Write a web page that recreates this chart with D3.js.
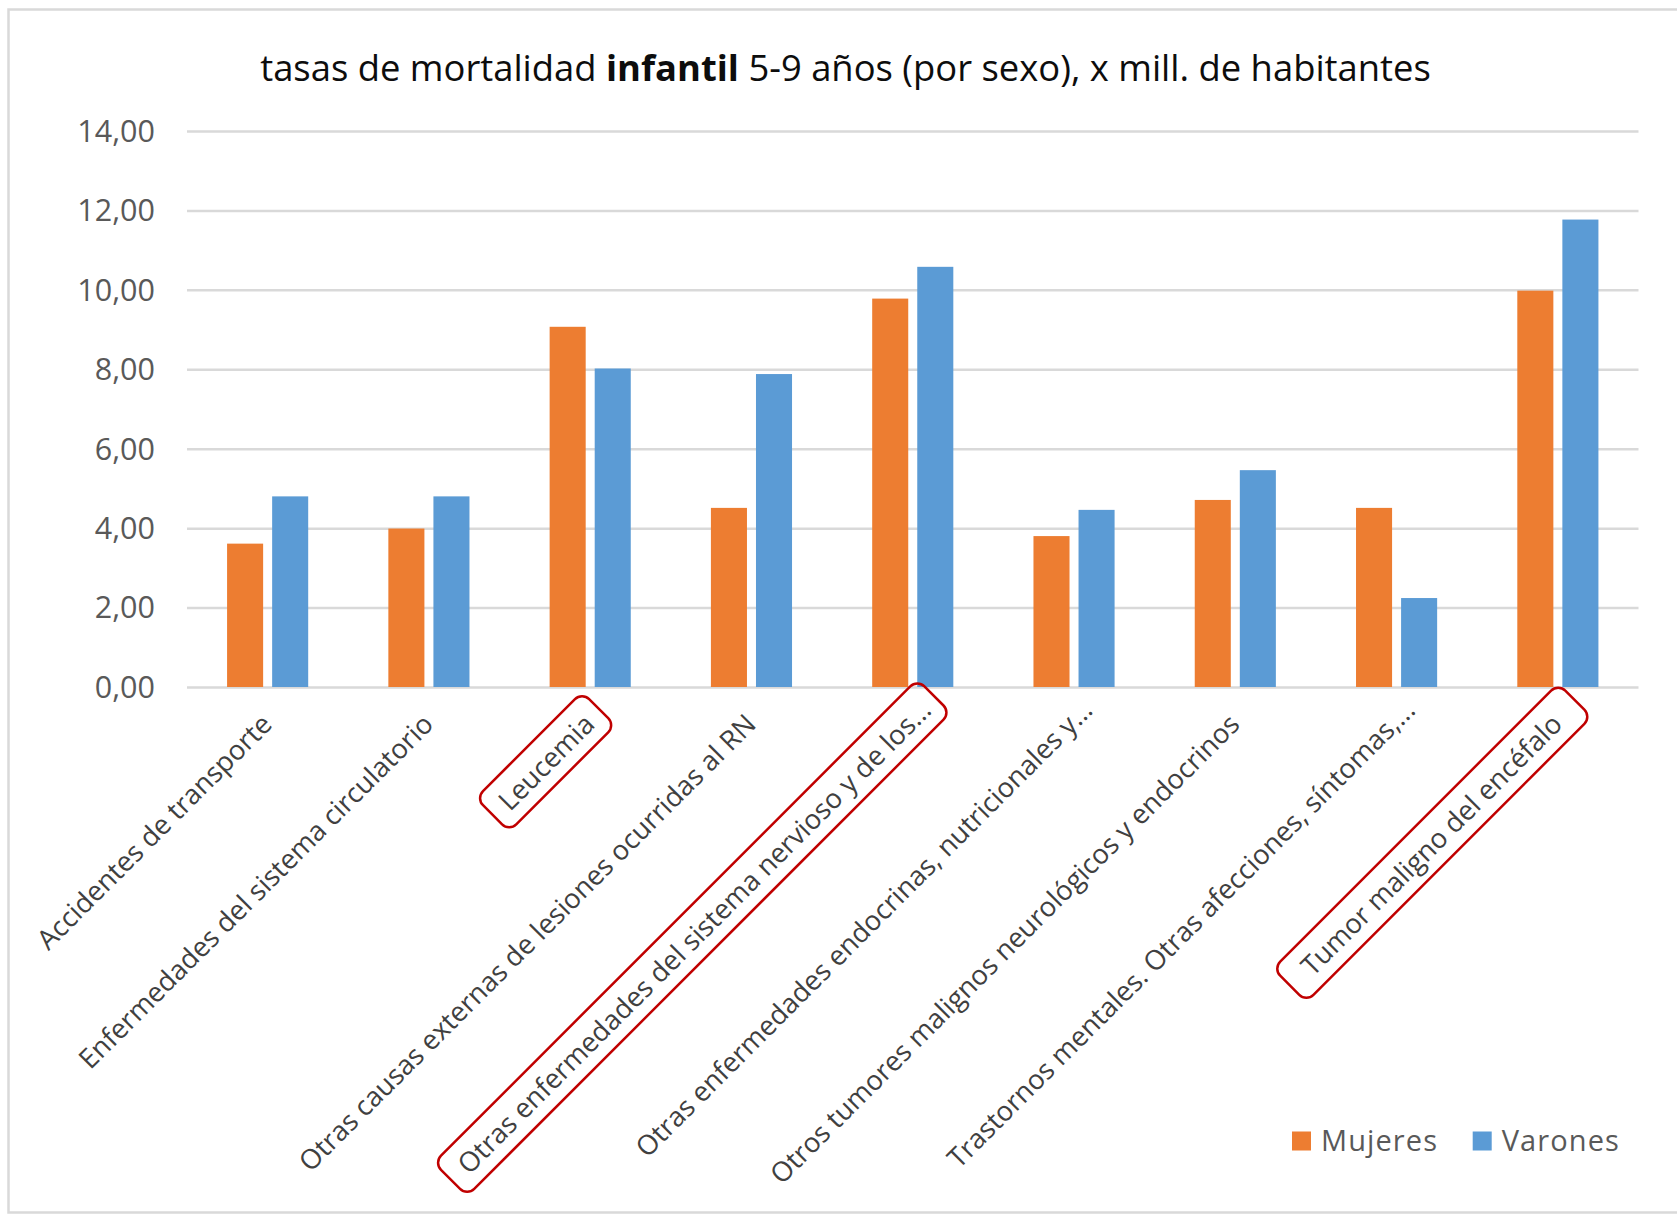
<!DOCTYPE html>
<html>
<head>
<meta charset="utf-8">
<script src="https://cdn.jsdelivr.net/npm/d3@7"></script>
<style>
  body { margin: 0; background: #fff; }
  svg { display: block; }
  text { font-family: "Open Sans", "Noto Sans", sans-serif; }
</style>
</head>
<body>
<svg id="chart" width="1677" height="1215"></svg>
<script>
// Causes of death (labels as shown on the axis; long ones are cut with "...")
const categories = [
  "Accidentes de transporte",
  "Enfermedades del sistema circulatorio",
  "Leucemia",
  "Otras causas externas de lesiones ocurridas al RN",
  "Otras enfermedades del sistema nervioso y de los...",
  "Otras enfermedades endocrinas, nutricionales y...",
  "Otros tumores malignos neurológicos y endocrinos",
  "Trastornos mentales. Otras afecciones, síntomas,...",
  "Tumor maligno del encéfalo"
];

// Rates per million inhabitants, ages 5-9
const mujeres = [3.61, 3.99, 9.07, 4.51, 9.78, 3.80, 4.71, 4.51, 9.98];
const varones = [4.80, 4.80, 8.02, 7.88, 10.58, 4.46, 5.46, 2.24, 11.77];

const seriesNames = ["Mujeres", "Varones"];
const seriesColors = ["#ED7D31", "#5B9BD5"];
const yTicks = [0, 2, 4, 6, 8, 10, 12, 14];

// Categories circled in red, with the frame's extra room before / after the text
const highlighted = [
  "Leucemia",
  "Otras enfermedades del sistema nervioso y de los...",
  "Tumor maligno del encéfalo"
];
const highlightPad = [[14, 14], [16, 12], [22, 26]];

const svg = d3.select("#chart");
const W = 1677, H = 1215;

// Outer chart frame (right side runs off the canvas)
svg.append("rect")
  .attr("x", 8.5).attr("y", 9.5)
  .attr("width", W + 40).attr("height", H - 12)
  .attr("fill", "#fff")
  .attr("stroke", "#D9D9D9")
  .attr("stroke-width", 2.5);

const plot = { left: 187, right: 1638.5, top: 131, bottom: 687 };

const x = d3.scaleBand()
  .domain(categories)
  .range([plot.left, plot.right])
  .paddingInner(0).paddingOuter(0);

const groupW = x.bandwidth() * 0.503;
const xInner = d3.scaleBand()
  .domain(seriesNames)
  .range([0, groupW])
  .paddingInner(0.2);

const y = d3.scaleLinear().domain([0, 14]).range([plot.bottom, plot.top]);

// Gridlines and value labels
const yAxis = d3.axisLeft(y)
  .tickValues(yTicks)
  .tickSize(-(plot.right - plot.left))
  .tickPadding(32)
  .tickFormat(d => d.toFixed(2).replace(".", ","));

const gy = svg.append("g")
  .attr("transform", `translate(${plot.left},0)`)
  .call(yAxis);
gy.select(".domain").remove();
gy.selectAll(".tick line")
  .attr("stroke", "#D9D9D9")
  .attr("stroke-width", 2.5);
gy.selectAll(".tick text")
  .attr("fill", "#595959")
  .style("font-size", "30.5px")
  .attr("dy", "0.34em");

// Bars
const rows = categories.map((c, i) => ({ cat: c, values: [mujeres[i], varones[i]] }));
const groups = svg.append("g").selectAll("g")
  .data(rows).join("g")
  .attr("transform", d => `translate(${x(d.cat) + (x.bandwidth() - groupW) / 2},0)`);

groups.selectAll("rect")
  .data(d => d.values.map((v, k) => ({ name: seriesNames[k], v, k })))
  .join("rect")
  .attr("x", d => xInner(d.name))
  .attr("width", xInner.bandwidth())
  .attr("y", d => y(d.v))
  .attr("height", d => y(0) - y(d.v))
  .attr("fill", d => seriesColors[d.k]);

// Category labels, rotated 45 degrees
const ellipsisShift = 20;
const labelG = svg.append("g").selectAll("g")
  .data(categories).join("g")
  .attr("transform", d => `translate(${x(d) + x.bandwidth() / 2 + 6},${plot.bottom + 39}) rotate(-45)`);

labelG.append("text")
  .attr("text-anchor", "end")
  .attr("x", d => d.endsWith("...") ? ellipsisShift : 0)
  .attr("y", 0)
  .attr("fill", "#404040")
  .style("font-size", "27.3px")
  .text(d => d);

// Red rounded frames around highlighted labels
labelG.filter(d => highlighted.includes(d)).each(function (d) {
  const g = d3.select(this);
  const [padL, padR] = highlightPad[highlighted.indexOf(d)];
  const bb = g.select("text").node().getBBox();
  g.insert("rect", "text")
    .attr("x", bb.x - padL)
    .attr("y", bb.y - 5)
    .attr("width", bb.width + padL + padR)
    .attr("height", bb.height + 10)
    .attr("rx", 10).attr("ry", 10)
    .attr("fill", "none")
    .attr("stroke", "#C00000")
    .attr("stroke-width", 2.5);
});

// Title with a bold word
const title = svg.append("text")
  .attr("x", 845.5)
  .attr("y", 81)
  .attr("text-anchor", "middle")
  .attr("fill", "#0d0d0d")
  .style("font-size", "31px");
title.append("tspan").text("tasas de mortalidad ");
title.append("tspan").attr("font-weight", "bold").text("infantil");
title.append("tspan").text(" 5-9 años (por sexo), x mill. de habitantes");
const tw = title.node().getComputedTextLength();
title.style("font-size", (31 * 1171 / tw) + "px");

// Legend
const legendX = [1292, 1472.7];
const legend = svg.append("g").selectAll("g")
  .data(seriesNames).join("g")
  .attr("transform", (d, i) => `translate(${legendX[i]},1131.5)`);
legend.append("rect")
  .attr("width", 19).attr("height", 19)
  .attr("fill", (d, i) => seriesColors[i]);
legend.append("text")
  .attr("x", 29)
  .attr("y", 9.5)
  .attr("dy", "0.36em")
  .attr("fill", "#595959")
  .style("font-size", "29px")
  .style("letter-spacing", "1.1px")
  .text(d => d);
</script>
</body>
</html>
